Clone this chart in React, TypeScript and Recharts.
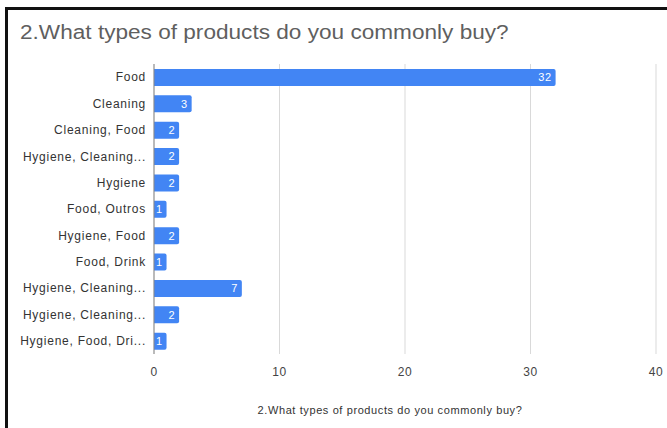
import { BarChart, Bar, XAxis, YAxis, CartesianGrid, LabelList } from 'recharts'

const categories = [
  'Food',
  'Cleaning',
  'Cleaning, Food',
  'Hygiene, Cleaning...',
  'Hygiene',
  'Food, Outros',
  'Hygiene, Food',
  'Food, Drink',
  'Hygiene, Cleaning...',
  'Hygiene, Cleaning...',
  'Hygiene, Food, Dri...',
]

const counts = [32, 3, 2, 2, 2, 1, 2, 1, 7, 2, 1]

const xTicks = [0, 10, 20, 30, 40]

const title = '2.What types of products do you commonly buy?'

const data = categories.map((name, i) => ({ id: i, name, count: counts[i] }))

const font = '"Liberation Sans", Arial, sans-serif'

export default function App() {
  return (
    <div style={{ position: 'absolute', left: 0, top: 0, width: 667, height: 428, background: '#fff', fontFamily: font }}>
      {/* framed screenshot edge */}
      <div
        style={{
          position: 'absolute',
          left: 5,
          top: 7,
          right: 0,
          bottom: 0,
          borderTop: '3px solid #111',
          borderLeft: '3px solid #111',
        }}
      />
      <div
        style={{
          position: 'absolute',
          left: 20,
          top: 21,
          fontSize: 20,
          color: '#5f5f5f',
          whiteSpace: 'nowrap',
          transform: 'scaleX(1.13)',
          transformOrigin: 'left top',
        }}
      >
        {title}
      </div>
      <BarChart
        width={667}
        height={428}
        data={data}
        layout="vertical"
        margin={{ top: 64, right: 11, left: 0, bottom: 14 }}
        barSize={17}
      >
        <CartesianGrid horizontal={false} stroke="#d9d9d9" />
        <XAxis
          type="number"
          domain={[0, 40]}
          ticks={xTicks}
          tickLine={false}
          axisLine={false}
          tickMargin={7}
          height={60}
          tick={{ fontSize: 12, fill: '#444', fontFamily: font, letterSpacing: 0.5 }}
          label={{
            value: title,
            position: 'insideBottom',
            offset: 0,
            dx: -15,
            fontSize: 11,
            fill: '#333',
            fontFamily: font,
            letterSpacing: 0.6,
          }}
        />
        <YAxis
          type="category"
          dataKey="id"
          tickFormatter={(v) => categories[v]}
          width={154}
          tickLine={false}
          axisLine={{ stroke: '#888' }}
          tick={{ fontSize: 12, fill: '#333', fontFamily: font, letterSpacing: 0.75 }}
        />
        <Bar dataKey="count" fill="#4285f4" radius={[0, 2, 2, 0]} isAnimationActive={false}>
          <LabelList dataKey="count" position="insideRight" offset={4} fill="#fff" fontSize={11} fontFamily={font} letterSpacing={0.5} />
        </Bar>
      </BarChart>
    </div>
  )
}
